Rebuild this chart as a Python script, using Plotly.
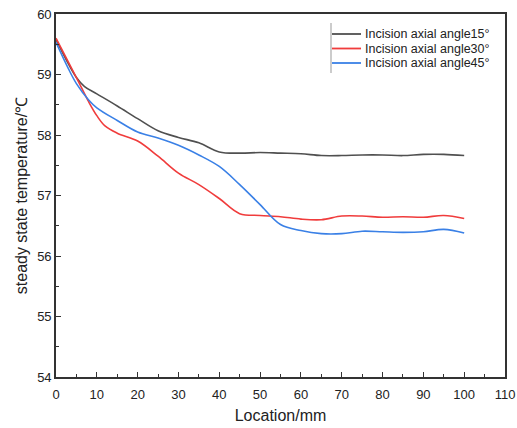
import plotly.graph_objects as go

x15 = [0, 5, 7, 10, 15, 20, 25, 30, 35, 40, 45, 50, 55, 60, 65, 70, 75, 80, 85, 90, 95, 100]
y15 = [59.58, 58.95, 58.80, 58.68, 58.48, 58.27, 58.07, 57.96, 57.87, 57.72, 57.70, 57.71,
       57.70, 57.69, 57.66, 57.66, 57.67, 57.67, 57.66, 57.68, 57.68, 57.66]

x30 = [0, 5, 8, 10, 12, 15, 20, 25, 30, 35, 40, 45, 50, 55, 60, 65, 70, 75, 80, 85, 90, 95, 100]
y30 = [59.60, 58.95, 58.55, 58.32, 58.15, 58.03, 57.90, 57.65, 57.37, 57.18, 56.95, 56.70,
       56.67, 56.65, 56.61, 56.60, 56.66, 56.66, 56.64, 56.65, 56.64, 56.67, 56.62]

x45 = [0, 3, 5, 8, 10, 15, 20, 25, 30, 35, 40, 45, 50, 55, 60, 65, 70, 75, 80, 85, 90, 95, 100]
y45 = [59.53, 59.10, 58.85, 58.58, 58.45, 58.24, 58.05, 57.95, 57.83, 57.67, 57.48, 57.18,
       56.85, 56.52, 56.42, 56.37, 56.37, 56.41, 56.40, 56.39, 56.40, 56.44, 56.38]

names = ["Incision axial angle15°", "Incision axial angle30°", "Incision axial angle45°"]
colors = ["#505050", "#f03c3c", "#3a80e6"]

fig = go.Figure()
for xs, ys, n, c in zip([x15, x30, x45], [y15, y30, y45], names, colors):
    fig.add_trace(go.Scatter(x=xs, y=ys, name=n, mode="lines", showlegend=False,
                             line=dict(color=c, width=1.6, shape="spline", smoothing=1.0)))

FONT = "Liberation Sans, Arial"
axis_common = dict(showline=True, linecolor="#333333", linewidth=1.6, mirror=True,
                   showgrid=False, zeroline=False, ticks="inside", ticklen=5,
                   tickwidth=1.2, tickcolor="#333333", automargin=False,
                   tickfont=dict(family=FONT, size=13, color="#222222"))

fig.update_xaxes(range=[0, 110], dtick=10, tick0=0, ticklabelstandoff=5,
                 minor=dict(ticks="inside", dtick=5, ticklen=3, tickcolor="#333333", tickwidth=1),
                 title=dict(text="Location/mm", font=dict(family=FONT, size=16, color="#222222"), standoff=8),
                 **axis_common)
fig.update_yaxes(range=[54, 60], dtick=1, tick0=54,
                 minor=dict(ticks="inside", dtick=0.5, ticklen=3, tickcolor="#333333", tickwidth=1),
                 title=dict(text="steady state temperature/℃", font=dict(family=FONT, size=16, color="#222222"), standoff=6),
                 **axis_common)

# manual legend (paper coordinates)
L, T, B, R = 56, 14, 377, 505
W, H = R - L, B - T
def px(v): return (v - L) / W
def py(v): return 1 - (v - T) / H

shapes = [dict(type="line", xref="paper", yref="paper", x0=px(331), x1=px(331), y0=py(23), y1=py(73),
               line=dict(color="#999999", width=1))]
annotations = []
for i, (n, c) in enumerate(zip(names, colors)):
    yc = 34 + 14.5 * i
    shapes.append(dict(type="line", xref="paper", yref="paper", x0=px(332), x1=px(361),
                       y0=py(yc), y1=py(yc), line=dict(color=c, width=1.8)))
    annotations.append(dict(text=n, xref="paper", yref="paper", x=px(363), y=py(yc),
                            xanchor="left", yanchor="middle", showarrow=False,
                            font=dict(family=FONT, size=12.5, color="#222222")))

fig.update_layout(
    width=517, height=428,
    margin=dict(l=L, r=517 - R, t=T, b=428 - B),
    paper_bgcolor="white", plot_bgcolor="white",
    shapes=shapes, annotations=annotations,
    showlegend=False,
)

fig.write_html("out.html")
